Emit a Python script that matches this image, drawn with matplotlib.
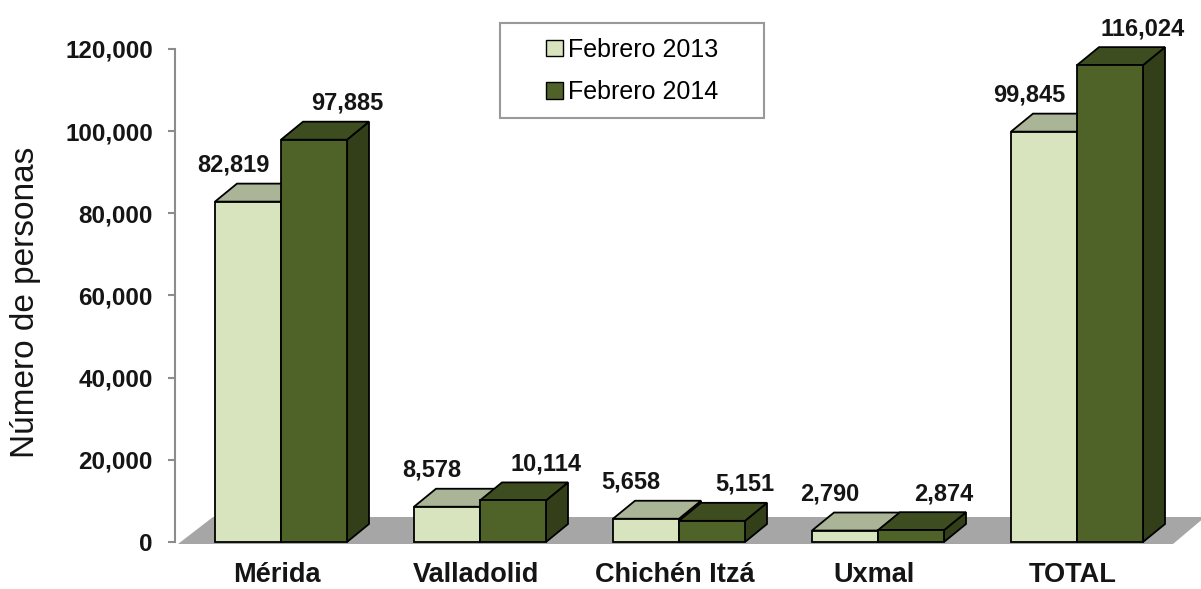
import matplotlib
matplotlib.use("Agg")
import matplotlib.pyplot as plt
import matplotlib.transforms as mtransforms
from matplotlib.patches import Polygon, Rectangle, Patch

plt.rcParams['font.family'] = ['Liberation Sans', 'DejaVu Sans']

# Data
categories = ["Mérida", "Valladolid", "Chichén Itzá", "Uxmal", "TOTAL"]
feb_2013 = [82819, 8578, 5658, 2790, 99845]
feb_2014 = [97885, 10114, 5151, 2874, 116024]
series_names = ["Febrero 2013", "Febrero 2014"]
y_ticks = [0, 20000, 40000, 60000, 80000, 100000, 120000]

# Colours (front, top, side)
light = ("#d7e4bd", "#a9b596", "#8c977a")
dark = ("#4f6228", "#3e4d1f", "#333f18")

W, H = 1201, 589
fig = plt.figure(figsize=(W / 100, H / 100), dpi=100)

# axes box in pixels
left_px, right_px, top_px, bot_px = 175, 1201, 10, 558
ax = fig.add_axes([left_px / W, (H - bot_px) / H, (right_px - left_px) / W, (bot_px - top_px) / H])

zero_px = 542
sy = 4.11 / 1000      # px per unit
sx = 199.0            # px per category
first_px = 281
ax.set_xlim((left_px - first_px) / sx, (right_px - first_px) / sx)
ax.set_ylim(-(bot_px - zero_px) / sy, (zero_px - top_px) / sy)

bw = 66 / sx
ddx, ddy = 22 / sx, 18 / sy

# floor
floor = Polygon([((178 - first_px) / sx, -2 / sy), ((1173 - first_px) / sx, -2 / sy),
                 ((1205 - first_px) / sx, 25 / sy), ((213 - first_px) / sx, 25 / sy)],
                closed=True, facecolor="#a6a6a6", edgecolor="none", zorder=1)
ax.add_patch(floor)


def bar3d(x0, h, cols, z):
    front = Rectangle((x0, 0), bw, h, facecolor=cols[0], edgecolor="black", lw=1.3, zorder=z)
    top = Polygon([(x0, h), (x0 + bw, h), (x0 + bw + ddx, h + ddy), (x0 + ddx, h + ddy)],
                  closed=True, facecolor=cols[1], edgecolor="black", lw=1.3, zorder=z)
    side = Polygon([(x0 + bw, 0), (x0 + bw + ddx, ddy), (x0 + bw + ddx, h + ddy), (x0 + bw, h)],
                   closed=True, facecolor=cols[2], edgecolor="black", lw=1.3, zorder=z)
    for p in (side, top, front):
        ax.add_patch(p)


z = 2
for i in range(len(categories)):
    bar3d(i - bw, feb_2013[i], light, z)
    bar3d(i, feb_2014[i], dark, z + 1)
    z += 2
    ax.annotate(f"{feb_2013[i]:,}", xy=(i - bw / 2, feb_2013[i]), xytext=(-15, 30),
                textcoords="offset pixels", ha="center", va="baseline",
                fontsize=17, fontweight="bold", color="#151515", zorder=20)
    ax.annotate(f"{feb_2014[i]:,}", xy=(i + bw / 2, feb_2014[i]), xytext=(33, 30),
                textcoords="offset pixels", ha="center", va="baseline",
                fontsize=17, fontweight="bold", color="#151515", zorder=20)

# axes styling
for s in ("top", "right", "bottom"):
    ax.spines[s].set_visible(False)
ax.spines["left"].set_color("#8c8c8c")
ax.spines["left"].set_linewidth(1.5)
ax.spines["left"].set_bounds(0, 120000)
ax.set_yticks(y_ticks)
ax.set_yticklabels([f"{v:,}" for v in y_ticks])
ax.tick_params(axis="y", length=5, width=1.5, color="#8c8c8c", pad=11,
               labelsize=17.5, labelcolor="#151515")
for t in ax.get_yticklabels():
    t.set_fontweight("bold")
ax.set_xticks([])

# category labels
trans = mtransforms.blended_transform_factory(ax.transData, fig.transFigure)
for i, c in enumerate(categories):
    ax.text(i - 0.02, 1 - 582 / H, c, transform=trans, ha="center", va="baseline",
            fontsize=19.5, fontweight="bold", color="#151515", clip_on=False)

fig.text(26 / W, 1 - 302 / H, "Número de personas", rotation=90, ha="center", va="center",
         fontsize=24, color="#151515")

# legend with a manual frame
fig.patches.append(Rectangle((500 / W, 1 - 118 / H), 264 / W, 95 / H, transform=fig.transFigure,
                             facecolor="white", edgecolor="#999999", lw=1.5, zorder=30))
handles = [Patch(facecolor=light[0], edgecolor="black", lw=1.0),
           Patch(facecolor=dark[0], edgecolor="black", lw=1.0)]
leg = fig.legend(handles, series_names, loc="center", bbox_to_anchor=(632 / W, 1 - 71 / H),
                 frameon=False, fontsize=18, handlelength=0.65, handleheight=0.65,
                 handletextpad=0.2, labelspacing=0.75)
leg.set_zorder(31)

fig.savefig("out.png", dpi=100)
